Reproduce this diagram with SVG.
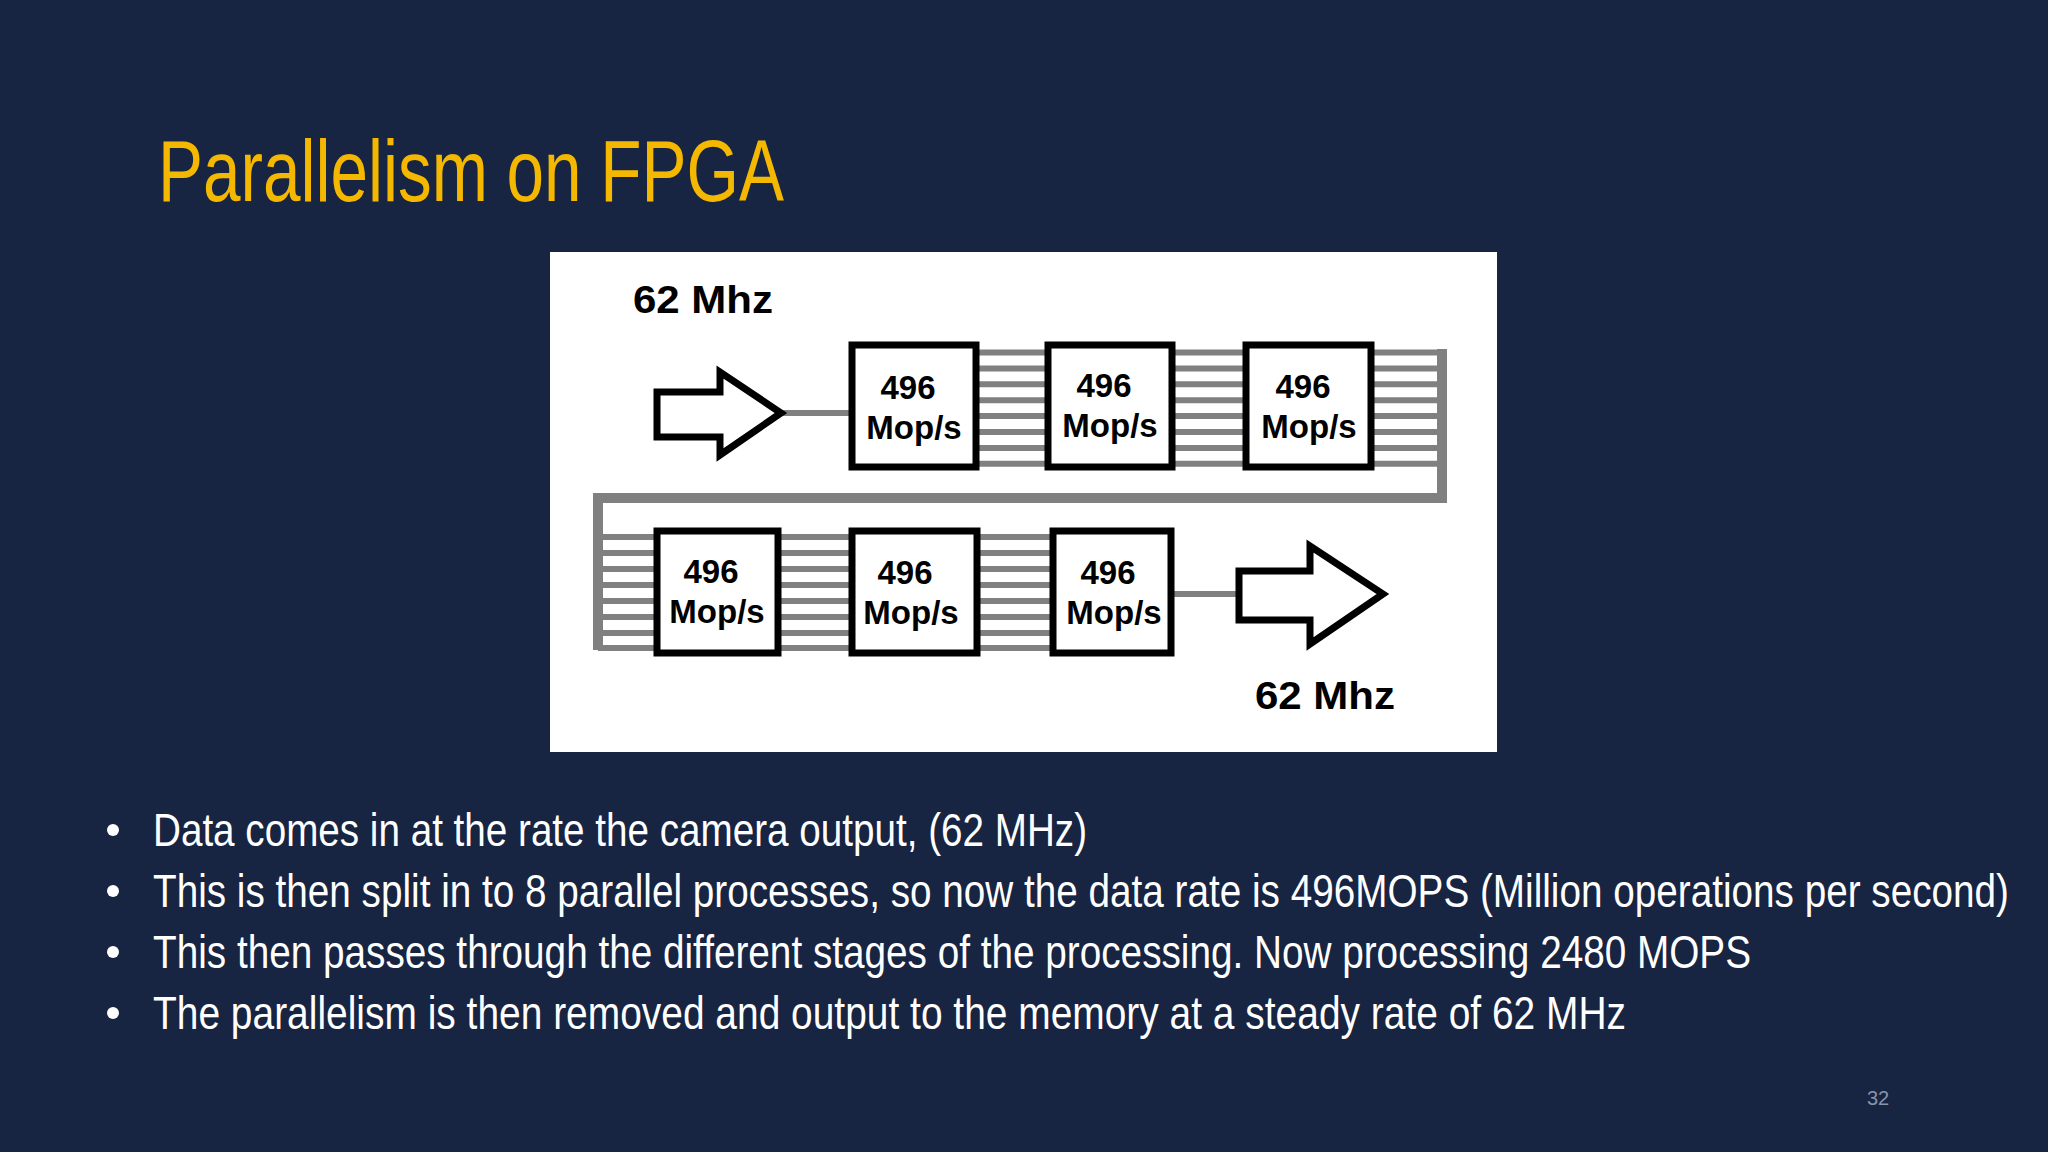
<svg xmlns="http://www.w3.org/2000/svg" width="2048" height="1152" viewBox="0 0 2048 1152">
<style>
.box{fill:#fff;stroke:#000;stroke-width:7}
.bt{font-family:"Liberation Sans",Arial,sans-serif;font-weight:bold;font-size:33px;fill:#000;text-anchor:middle}
.lbl{font-family:"Liberation Sans",Arial,sans-serif;font-weight:bold;font-size:39px;fill:#000}
.bus{stroke:#808080;stroke-width:6;fill:none}
.arr{fill:#fff;stroke:#000;stroke-width:7;stroke-linejoin:miter}
.bul{font-family:"Liberation Sans Narrow","Liberation Sans",sans-serif;font-size:46px;fill:#fff}
</style>
<rect width="2048" height="1152" fill="#172442"/>
<text x="158" y="201" font-family="'Liberation Sans Narrow','Liberation Sans',sans-serif" font-size="88" fill="#F5B800" textLength="626" lengthAdjust="spacingAndGlyphs">Parallelism on FPGA</text>
<rect x="550" y="252" width="947" height="500" fill="#fff"/>
<g id="connectors">
<path class="bus" d="M978 352.5h67M978 368.4h67M978 384.3h67M978 400.2h67M978 416.1h67M978 432h67M978 447.9h67M978 463.8h67"/>
<path class="bus" d="M1175 352.5h68M1175 368.4h68M1175 384.3h68M1175 400.2h68M1175 416.1h68M1175 432h68M1175 447.9h68M1175 463.8h68"/>
<path class="bus" d="M1374 352.5h68M1374 368.4h68M1374 384.3h68M1374 400.2h68M1374 416.1h68M1374 432h68M1374 447.9h68M1374 463.8h68"/>
<path d="M1442 349V498H598V650" stroke="#808080" stroke-width="10" fill="none"/>
<path class="bus" d="M598 537h56M598 553h56M598 569h56M598 585h56M598 601h56M598 617h56M598 633h56M598 648h56"/>
<path class="bus" d="M780 537h69M780 553h69M780 569h69M780 585h69M780 601h69M780 617h69M780 633h69M780 648h69"/>
<path class="bus" d="M979 537h71M979 553h71M979 569h71M979 585h71M979 601h71M979 617h71M979 633h71M979 648h71"/>
<path class="bus" d="M781 413H849M1173 594H1239"/>
</g>
<g id="in"><polygon class="arr" points="657,392 720,392 720,372 781,413 720,455 720,437 657,437"/><text class="lbl" x="633" y="313" textLength="140" lengthAdjust="spacingAndGlyphs">62 Mhz</text></g>
<g id="out"><polygon class="arr" points="1239,571 1310,571 1310,546 1383,594 1310,644 1310,620 1239,620"/><text class="lbl" x="1255" y="709" textLength="140" lengthAdjust="spacingAndGlyphs">62 Mhz</text></g>
<g id="n1"><rect class="box" x="852" y="345" width="124" height="122"/><text class="bt" x="908" y="399">496</text><text class="bt" x="914" y="439">Mop/s</text></g>
<g id="n2"><rect class="box" x="1048" y="345" width="124" height="122"/><text class="bt" x="1104" y="397">496</text><text class="bt" x="1110" y="437">Mop/s</text></g>
<g id="n3"><rect class="box" x="1246" y="345" width="125" height="122"/><text class="bt" x="1303" y="398">496</text><text class="bt" x="1309" y="438">Mop/s</text></g>
<g id="n4"><rect class="box" x="657" y="531" width="121" height="122"/><text class="bt" x="711" y="583">496</text><text class="bt" x="717" y="623">Mop/s</text></g>
<g id="n5"><rect class="box" x="852" y="531" width="125" height="122"/><text class="bt" x="905" y="584">496</text><text class="bt" x="911" y="624">Mop/s</text></g>
<g id="n6"><rect class="box" x="1053" y="531" width="118" height="122"/><text class="bt" x="1108" y="584">496</text><text class="bt" x="1114" y="624">Mop/s</text></g>
<g fill="#fff"><circle cx="113" cy="830" r="6"/><circle cx="113" cy="891" r="6"/><circle cx="113" cy="952" r="6"/><circle cx="113" cy="1013" r="6"/></g>
<text class="bul" x="153" y="846" textLength="934" lengthAdjust="spacingAndGlyphs">Data comes in at the rate the camera output, (62 MHz)</text>
<text class="bul" x="153" y="907" textLength="1856" lengthAdjust="spacingAndGlyphs">This is then split in to 8 parallel processes, so now the data rate is 496MOPS (Million operations per second)</text>
<text class="bul" x="153" y="968" textLength="1598" lengthAdjust="spacingAndGlyphs">This then passes through the different stages of the processing. Now processing 2480 MOPS</text>
<text class="bul" x="153" y="1029" textLength="1473" lengthAdjust="spacingAndGlyphs">The parallelism is then removed and output to the memory at a steady rate of 62 MHz</text>
<text x="1878" y="1105" font-family="'Liberation Sans',sans-serif" font-size="20" fill="#8a93a8" text-anchor="middle">32</text>
</svg>
